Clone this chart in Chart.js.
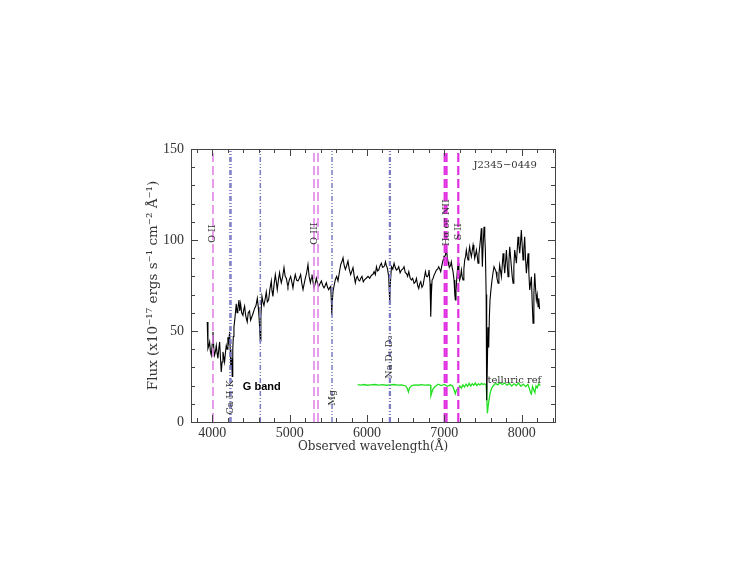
<!DOCTYPE html>
<html lang="en">
<head>
    <meta charset="UTF-8">
    <title>J2345-0449 spectrum</title>
    <script src="https://cdn.jsdelivr.net/npm/chart.js"></script>
    <style>
        body { margin: 0; background: #fff; }
        #wrap { width: 750px; height: 563px; }
    </style>
</head>
<body>
<div id="wrap"><canvas id="spec"></canvas></div>
<script>
// Observed spectrum, wavelength (Angstrom) and flux (1e-17 erg/s/cm2/A)
const specWave = [3935,3944,3955,3966,3975,3987,4000,4009,4020,4030,4042,4052,4062,4073,4084,4095,4105,4116,4127,4138,
    4148,4159,4170,4181,4192,4202,4213,4224,4232,4240,4245,4252,4258,4265,4272,4280,4295,4310,4320,4331,
    4345,4355,4366,4380,4396,4408,4418,4430,4440,4452,4465,4482,4495,4513,4530,4547,4565,4582,4595,4603,
    4612,4620,4628,4642,4655,4668,4685,4698,4712,4728,4745,4763,4772,4784,4800,4815,4828,4840,4855,4870,
    4880,4892,4910,4927,4942,4957,4970,4978,4995,5013,5028,5043,5058,5073,5090,5108,5125,5142,5158,5173,
    5188,5203,5220,5237,5252,5268,5280,5289,5302,5315,5330,5345,5360,5375,5392,5410,5428,5444,5460,5474,
    5490,5505,5520,5531,5540,5544,5550,5561,5575,5591,5608,5625,5642,5660,5675,5690,5705,5720,5738,5754,
    5770,5789,5805,5819,5835,5849,5862,5875,5890,5905,5920,5935,5952,5970,5990,6013,6035,6057,6075,6092,
    6108,6122,6137,6152,6170,6186,6200,6216,6228,6238,6250,6264,6280,6290,6294,6300,6316,6333,6350,6365,
    6380,6395,6410,6428,6445,6462,6479,6495,6510,6525,6540,6558,6574,6590,6609,6625,6639,6655,6669,6682,
    6695,6710,6725,6740,6755,6768,6781,6795,6802,6815,6824,6832,6841,6855,6867,6882,6897,6912,6927,6940,
    6953,6968,6983,6995,7004,7015,7026,7036,7047,7058,7069,7080,7090,7100,7112,7125,7135,7142,7150,7159,
    7168,7177,7188,7198,7210,7220,7230,7241,7252,7263,7274,7284,7295,7306,7316,7327,7338,7349,7360,7371,
    7382,7392,7403,7414,7425,7435,7446,7457,7468,7478,7485,7491,7500,7513,7522,7530,7540,7547,7555,7564,
    7573,7582,7590,7603,7616,7629,7642,7655,7668,7680,7694,7705,7715,7726,7737,7748,7759,7770,7780,7791,
    7802,7812,7823,7834,7845,7855,7866,7877,7888,7898,7909,7920,7931,7942,7952,7963,7974,7985,7995,8006,
    8017,8027,8038,8049,8060,8071,8082,8092,8103,8114,8125,8135,8146,8157,8168,8178,8189,8200,8211,8220,8230];
const specFlux = [55,40.4,42,44,39,36.7,43,49.5,40,36.7,39,42,38,35,40,44,36,27.5,33,38.5,
    36,33,38,42,40,46.5,44,49.5,40,30,29,35,25,40,47,52,58,65,60,62.4,
    67,61,65,60,58.6,62,63.7,59,57,55,60,61,56,58,60,62.4,64,68,63,58.6,
    52,44.5,58,69,66,64,68,71.5,66,67,73,77.5,72,69,76,81,77,72.7,78,82,
    79,76.5,80,84.8,80,79,76,74.5,78,80,77,73.7,78,81,78,77.5,79,81,76,72.7,
    76,79,82,86.5,80,76.5,79,81,77,73.7,76,79,76,74.5,76,77.5,75,73.7,75,76.5,
    74,72.7,74,74.5,66,58.6,65,71.8,75,78.3,80,77.5,82,86.5,88,90.2,86,83.8,86,88.4,
    84,81,83,84.8,80,76.5,79,80,78,77.5,79,80,77,78.3,79,80,79,80.7,81,82.6,
    81,85.3,83,83.5,86,87.2,85,85.3,86,88.1,86,84.4,80,70,65.2,75,85.3,84,87.2,85,
    83.5,84,85.3,82,83.5,84,85.3,82,81.7,80,82.6,79,78,79,76.2,77,78.9,75,73.4,76,
    77.1,74,75.2,79,82.6,80,79.8,81,83.5,76,57.9,70,78,79,80.7,82,83.5,84,85.3,84,
    82.6,86,89,91,90.8,92,95.4,91,88,86,85.3,86,88,85,82.6,78,70,67,72,78,
    83,87.2,82,78,80,83.5,80,78,84,89,91,94.5,91,89,93,96.3,93,90.8,94,97.2,
    94,89.9,92,94.5,91,87.2,92,96.3,101,106.4,95,85.3,96,107.3,102,94.5,70,12,30,52,
    41,58,67,73,78,82,85.3,84,82.6,79,76.2,81,86.2,83,79.8,86,92.7,87,81.7,88,
    94.5,87,79.8,88,96.3,91,85.3,80,76.2,85,94.5,91,87.2,95,101.8,97,92.7,99,105.5,97,
    89,95,101.8,90,81.7,87,92.7,82,72.5,76,79.8,66,54.3,70,81.7,74,67,70,63.3,68,62];

// Telluric reference spectrum
const tellWave = [5880,5920,5960,6000,6050,6100,6150,6200,6250,6300,6350,6400,6450,6500,6520,6535,6550,6580,6620,6660,
    6700,6750,6800,6822,6826,6835,6850,6880,6920,6960,7000,7040,7080,7110,7130,7142,7155,7180,7200,7220,
    7240,7260,7280,7300,7320,7340,7360,7380,7400,7420,7440,7460,7480,7500,7520,7540,7548,7556,7570,7590,
    7610,7630,7660,7690,7720,7750,7780,7810,7840,7870,7900,7930,7960,7990,8020,8050,8080,8100,8115,8125,
    8140,8160,8170,8185,8200,8220,8240];
const tellFlux = [20.5,20.3,20.6,20.2,20.4,20.6,20.3,20.5,20.2,20.4,20.6,20.3,20.4,19.8,18.5,16.5,18.8,20.0,20.4,20.2,
    20.5,20.3,20.4,20.2,14.5,15.8,18.0,19.5,20.8,20.0,20.6,19.6,20.4,19.5,17.0,15.5,17.5,18.3,19.8,18.6,
    20.4,19.2,20.8,19.6,21.2,19.8,21.0,20.2,21.4,20.0,21.0,20.4,21.2,20.6,21.0,20.2,14,4.8,10,15.6,
    18.5,19.8,21.2,20.4,21.6,20.6,21.4,20.2,21.2,19.8,21.0,20.0,21.4,19.6,20.8,19.4,20.6,18.2,16,15.4,
    19.5,17,16.2,19.8,18.8,21,20];

// Line markers (observed wavelengths)
const weakEmission = [4009, 5315, 5367];
const strongEmission = [7004, 7028, 7180];
const absorptionLines = [4228, 4242, 4621, 5548, 6291, 6301];

// Line identifications: text, wavelength, flux at label centre
const idText = ['O II', 'O III', 'Ca H K', 'Mg', 'Na D\u2081 D\u2082', 'H\u03b1 or NII', 'S II'];
const idWave = [4009, 5328, 4238, 5548, 6294, 7026, 7177];
const idFlux = [103.5, 103.5, 13.5, 13.3, 35.6, 109.5, 104.5];

const xTicks = [4000, 5000, 6000, 7000, 8000];
const yTicks = [0, 50, 100, 150];

const serif = "'Liberation Serif', 'DejaVu Serif', serif";
const wideSerif = "'DejaVu Serif', serif";

function markerSets(list, color, width, dash) {
    return list.map(w => ({
        data: [{x: w, y: 0}, {x: w, y: 150}],
        borderColor: color,
        borderWidth: width,
        borderDash: dash,
        pointRadius: 0
    }));
}

// Inward ticks on all four sides, frame and text annotations
const decor = {
    id: 'decor',
    afterDatasetsDraw(chart) {
        const {ctx, chartArea: a, scales: {x, y}} = chart;
        ctx.save();
        ctx.strokeStyle = '#444';
        ctx.lineWidth = 1;
        ctx.beginPath();
        for (let v = 3800; v <= 8400; v += 200) {
            const px = Math.round(x.getPixelForValue(v)) + 0.5;
            const len = v % 1000 === 0 ? 7 : 4;
            ctx.moveTo(px, a.bottom); ctx.lineTo(px, a.bottom - len);
            ctx.moveTo(px, a.top); ctx.lineTo(px, a.top + len);
        }
        for (let v = 0; v <= 150; v += 10) {
            const py = Math.round(y.getPixelForValue(v)) + 0.5;
            const len = v % 50 === 0 ? 7 : 4;
            ctx.moveTo(a.left, py); ctx.lineTo(a.left + len, py);
            ctx.moveTo(a.right, py); ctx.lineTo(a.right - len, py);
        }
        ctx.stroke();
        ctx.strokeRect(Math.round(a.left) + 0.5, Math.round(a.top) + 0.5,
            Math.round(a.right - a.left), Math.round(a.bottom - a.top));

        ctx.fillStyle = '#333';
        ctx.font = '9.5px ' + wideSerif;
        ctx.textAlign = 'center';
        ctx.textBaseline = 'middle';
        idText.forEach((t, i) => {
            ctx.save();
            ctx.translate(x.getPixelForValue(idWave[i]), y.getPixelForValue(idFlux[i]));
            ctx.rotate(-Math.PI / 2);
            ctx.fillText(t, 0, 0);
            ctx.restore();
        });

        ctx.font = '10px ' + wideSerif;
        ctx.textAlign = 'left';
        ctx.fillText('telluric ref', x.getPixelForValue(7556), y.getPixelForValue(23));
        ctx.textAlign = 'center';
        ctx.fillText('J2345\u22120449', x.getPixelForValue(7785), y.getPixelForValue(141));

        ctx.fillStyle = '#000';
        ctx.font = "bold 11px 'Liberation Sans', Arial, sans-serif";
        ctx.fillText('G band', x.getPixelForValue(4640), y.getPixelForValue(19.3));
        ctx.restore();
    }
};

const datasets = [
    ...markerSets(absorptionLines, '#7c7cc4', 1.5, [5, 2, 1, 2, 1, 2]),
    ...markerSets(weakEmission, '#e07ce6', 1.5, [9, 4]),
    ...markerSets(strongEmission, '#e030e0', 2.2, [9, 4]),
    {
        data: specWave.map((w, i) => ({x: w, y: specFlux[i]})),
        borderColor: '#000',
        borderWidth: 1.1,
        pointRadius: 0
    },
    {
        data: tellWave.map((w, i) => ({x: w, y: tellFlux[i]})),
        borderColor: '#22e022',
        borderWidth: 1.3,
        pointRadius: 0
    }
];

new Chart(document.getElementById('spec'), {
    type: 'line',
    data: {datasets},
    options: {
        responsive: true,
        maintainAspectRatio: false,
        animation: false,
        layout: {padding: {left: 131, right: 195, top: 149, bottom: 106}},
        plugins: {legend: {display: false}, tooltip: {enabled: false}},
        scales: {
            x: {
                type: 'linear',
                min: 3725,
                max: 8430,
                afterBuildTicks: s => { s.ticks = xTicks.map(v => ({value: v})); },
                afterFit: s => { s.height = 35; },
                grid: {display: false, drawTicks: false},
                border: {display: false},
                ticks: {color: '#333', padding: 3, font: {family: serif, size: 14},
                    callback: v => String(v)},
                title: {display: true, text: 'Observed wavelength(\u00c5)', color: '#333',
                    padding: {top: 0, bottom: 3}, font: {family: wideSerif, size: 12}}
            },
            y: {
                min: 0,
                max: 150,
                afterBuildTicks: s => { s.ticks = yTicks.map(v => ({value: v})); },
                afterFit: s => { s.width = 60; },
                grid: {display: false, drawTicks: false},
                border: {display: false},
                ticks: {color: '#333', padding: 7, font: {family: serif, size: 14},
                    callback: v => String(v)},
                title: {display: true, text: 'Flux (x10\u207b\u00b9\u2077 ergs s\u207b\u00b9 cm\u207b\u00b2 \u00c5\u207b\u00b9)',
                    color: '#333', padding: {top: 14, bottom: 0}, font: {family: wideSerif, size: 13.5}}
            }
        }
    },
    plugins: [decor]
});
</script>
</body>
</html>
